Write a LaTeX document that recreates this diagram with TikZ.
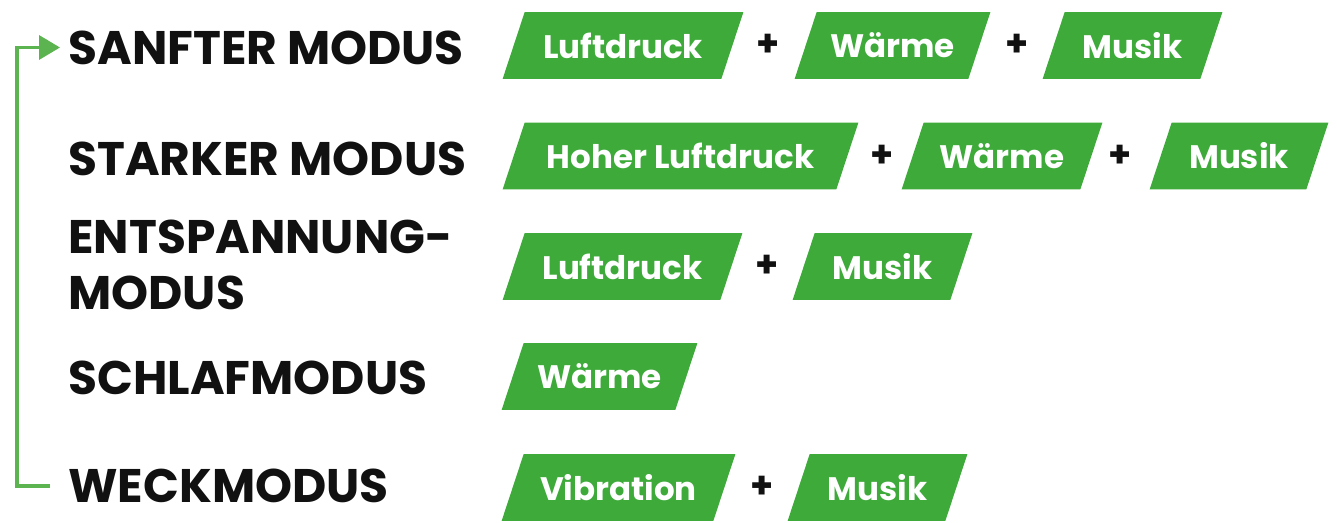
\documentclass[tikz,border=0pt]{standalone}
\usepackage{fontspec}
\setmainfont{Poppins}
\newfontfamily\headfont{Poppins}
\usetikzlibrary{arrows.meta, positioning, calc, backgrounds}
\definecolor{ModeGreen}{HTML}{3DAA3A}
\definecolor{ArrowGreen}{HTML}{5BB450}
\definecolor{DarkText}{HTML}{111111}

\tikzset{
  modelabel/.style={anchor=west, inner sep=0pt, align=left, text=DarkText,
                    font=\headfont\bfseries\fontsize{26.8}{32}\selectfont},
  featbox/.style={minimum width=#1, minimum height=1.32cm, inner sep=0pt,
                  text=white, font=\bfseries\fontsize{18.5}{21}\selectfont},
  plussign/.style={inner sep=0pt, text=DarkText, font=\bfseries\fontsize{21}{21}\selectfont},
  cyclearrow/.style={draw=ArrowGreen, line width=2pt, rounded corners=0pt,
                     -{Triangle[length=0.42cm, width=0.48cm]}}
}

\begin{document}
\begin{tikzpicture}
  \useasboundingbox (0,0) rectangle (26.74,-10.46);

  % mode names
  \node[modelabel] (sanft)  at (1.36,-0.95) {SANFTER MODUS};
  \node[modelabel] (stark)  at (1.36,-3.17) {STARKER MODUS};
  \node[modelabel] (entsp)  at (1.36,-5.30) {ENTSPANNUNG-\\MODUS};
  \node[modelabel] (schlaf) at (1.36,-7.56) {SCHLAFMODUS};
  \node[modelabel] (weck)   at (1.36,-9.72) {WECKMODUS};

  % row 1
  \node[featbox=4.80cm] (sanftA) at (12.46,-0.91) {Luftdruck};
  \node[plussign]       (sanftP) at (15.36,-0.91) {+};
  \node[featbox=3.90cm] (sanftB) at (17.85,-0.91) {Wärme};
  \node[plussign]       (sanftQ) at (20.34,-0.91) {+};
  \node[featbox=3.58cm] (sanftC) at (22.65,-0.91) {Musik};

  % row 2
  \node[featbox=7.10cm] (starkA) at (13.61,-3.12) {Hoher Luftdruck};
  \node[plussign]       (starkP) at (17.64,-3.12) {+};
  \node[featbox=4.00cm] (starkB) at (20.04,-3.12) {Wärme};
  \node[plussign]       (starkQ) at (22.40,-3.12) {+};
  \node[featbox=3.56cm] (starkC) at (24.78,-3.12) {Musik};

  % row 3
  \node[featbox=4.78cm] (entspA) at (12.45,-5.33) {Luftdruck};
  \node[plussign]       (entspP) at (15.34,-5.33) {+};
  \node[featbox=3.58cm] (entspB) at (17.65,-5.33) {Musik};

  % row 4
  \node[featbox=3.90cm] (schlafA) at (11.99,-7.53) {Wärme};

  % row 5
  \node[featbox=4.66cm] (weckA) at (12.37,-9.75) {Vibration};
  \node[plussign]       (weckP) at (15.24,-9.75) {+};
  \node[featbox=3.58cm] (weckB) at (17.55,-9.75) {Musik};

  % green slanted boxes behind the words
  \begin{scope}[on background layer]
    \foreach \b in {sanftA,sanftB,sanftC,starkA,starkB,starkC,entspA,entspB,schlafA,weckA,weckB}
      \fill[ModeGreen] (\b.south west) -- ($(\b.north west)+(0.44,0)$)
        -- (\b.north east) -- ($(\b.south east)-(0.44,0)$) -- cycle;
  \end{scope}

  % back to the first mode
  \draw[cyclearrow] ([xshift=-0.36cm]weck.west) -- ++(-0.66,0)
    |- ([xshift=-0.16cm]sanft.west);
\end{tikzpicture}
\end{document}
